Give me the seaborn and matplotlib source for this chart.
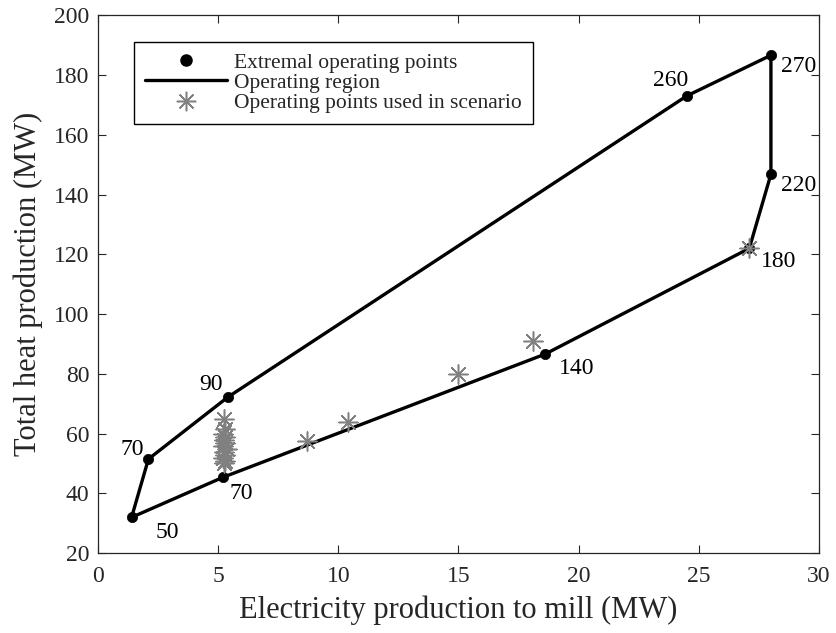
import numpy as np
import pandas as pd
import matplotlib
matplotlib.use("Agg")
import matplotlib.pyplot as plt
import seaborn as sns
from matplotlib.lines import Line2D

# Extremal operating points of the CHP unit (boundary of feasible region, in drawing order)
region_el = [1.4, 2.1, 5.4, 24.5, 28.0, 28.0, 27.1, 18.6, 5.2, 1.4]
region_heat = [32.0, 51.5, 72.2, 173.0, 186.6, 146.8, 122.0, 86.6, 45.4, 32.0]
region_load = ["50", "70", "90", "260", "270", "220", "180", "140", "70", "50"]

# Operating points chosen in the scenario
used_el = [27.1, 18.1, 15.0, 10.4, 8.7,
           5.25, 5.3, 5.2, 5.3, 5.25, 5.35, 5.2, 5.3, 5.25, 5.3, 5.2, 5.3, 5.25]
used_heat = [122.0, 90.9, 79.9, 63.8, 57.5,
             50.2, 51.0, 52.0, 53.0, 54.0, 55.0, 56.0, 57.0, 58.0, 59.0, 60.0, 61.5, 65.0]

# Label offsets (points) for the load annotations
label_offsets = [(26, -11), (-11.5, 7), (-12, 9), (-11.5, 11), (20, -8),
                 (20, -8), (21, -9.4), (23, -10), (13, -11.5)]

region = pd.DataFrame({"el": region_el, "heat": region_heat})
used = pd.DataFrame({"el": used_el, "heat": used_heat})

sns.set_style("ticks")
plt.rcParams["font.family"] = ["Liberation Serif", "DejaVu Serif"]
plt.rcParams["mathtext.fontset"] = "stix"

fig = plt.figure(figsize=(8.37, 6.33), dpi=100)
ax = fig.add_axes([0.117, 0.126, 0.8615, 0.85])

sns.lineplot(data=region, x="el", y="heat", sort=False, estimator=None,
             color="black", linewidth=2.4, ax=ax, zorder=2)
sns.scatterplot(data=region.iloc[:-1], x="el", y="heat", color="black",
                s=55, edgecolor="black", linewidth=0.5, ax=ax, zorder=3)
sns.scatterplot(data=used, x="el", y="heat", marker=(8, 2, 0), color="#808080",
                s=190, linewidth=1.1, ax=ax, zorder=4)

for xv, yv, lab, off in zip(region_el[:-1], region_heat[:-1], region_load[:-1], label_offsets):
    ax.annotate(lab, (xv, yv), xytext=off, textcoords="offset points",
                ha="center", va="center", fontsize=17, color="black")

ax.set_xlim(0, 30)
ax.set_ylim(20, 200)
ax.set_xticks(np.arange(0, 31, 5))
ax.set_yticks(np.arange(20, 201, 20))
ax.set_xlabel("Electricity production to mill (MW)", fontsize=22, color="#262626", labelpad=6)
ax.set_ylabel("Total heat production (MW)", fontsize=22, color="#262626", labelpad=8)
ax.tick_params(direction="in", length=6, width=0.8, labelsize=17, colors="#262626",
               top=True, right=True)
ax.tick_params(axis="x", pad=9)
ax.tick_params(axis="y", pad=6)
for sp in ax.spines.values():
    sp.set_visible(True)
    sp.set_color("#262626")
    sp.set_linewidth(0.9)

handles = [
    Line2D([], [], marker="o", linestyle="none", color="black", markersize=8),
    Line2D([], [], color="black", linewidth=2.4),
    Line2D([], [], marker=(8, 2, 0), linestyle="none", color="#808080", markersize=14,
           markeredgewidth=1.1),
]
labels = ["Extremal operating points", "Operating region", "Operating points used in scenario"]
leg = ax.legend(handles, labels, loc="upper left", bbox_to_anchor=(0.05, 0.95),
                fontsize=15.5, frameon=True, fancybox=False, framealpha=1,
                edgecolor="black", handlelength=3.8, handletextpad=0.35,
                labelspacing=0.0, borderpad=0.5, borderaxespad=0)
leg.get_frame().set_linewidth(1.0)

fig.savefig("out.png", dpi=100)
